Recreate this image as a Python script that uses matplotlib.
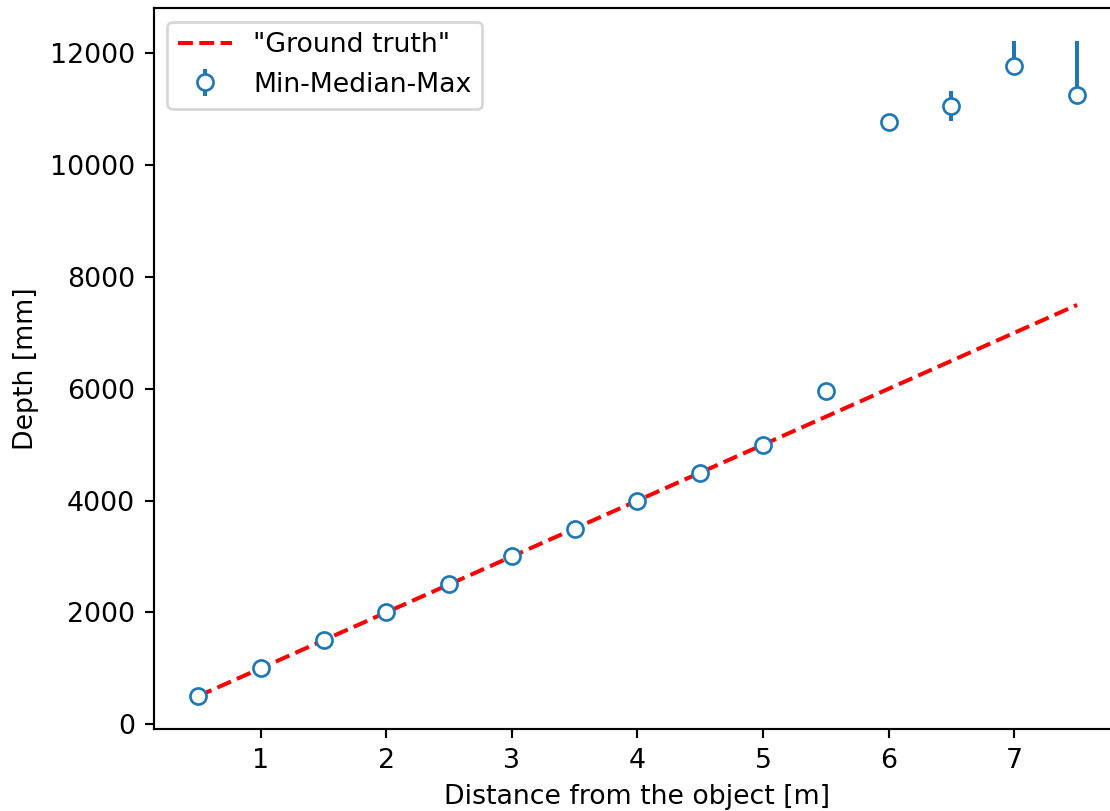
import numpy as np
import matplotlib
matplotlib.use("Agg")
import matplotlib.pyplot as plt

# distances [m] and measured depth stats [mm]
distance = [0.5, 1.0, 1.5, 2.0, 2.5, 3.0, 3.5, 4.0, 4.5, 5.0, 5.5, 6.0, 6.5, 7.0, 7.5]
depth_median = [500, 1000, 1500, 2000, 2500, 3000, 3500, 4000, 4500, 5000, 5960, 10765, 11050, 11770, 11250]
depth_min = [500, 1000, 1500, 2000, 2500, 3000, 3500, 4000, 4500, 5000, 5960, 10765, 10785, 11770, 11250]
depth_max = [500, 1000, 1500, 2000, 2500, 3000, 3500, 4000, 4500, 5000, 5960, 10765, 11320, 12220, 12220]

truth_x = [0.5, 7.5]
truth_y = [500, 7500]

med = np.array(depth_median)
yerr = [med - np.array(depth_min), np.array(depth_max) - med]

DPI = 193
fig = plt.figure(figsize=(1110 / DPI, 811 / DPI), dpi=DPI)
ax = fig.add_axes([0.1387, 0.1011, 0.8712, 0.8887])

ax.plot(truth_x, truth_y, 'r--', label='"Ground truth"')
ax.errorbar(distance, depth_median, yerr=yerr, fmt='o', mfc='white',
            label='Min-Median-Max')

ax.set_xlabel("Distance from the object [m]")
ax.set_ylabel("Depth [mm]")
ax.legend(loc="upper left")

fig.savefig("out.png", dpi=DPI)
